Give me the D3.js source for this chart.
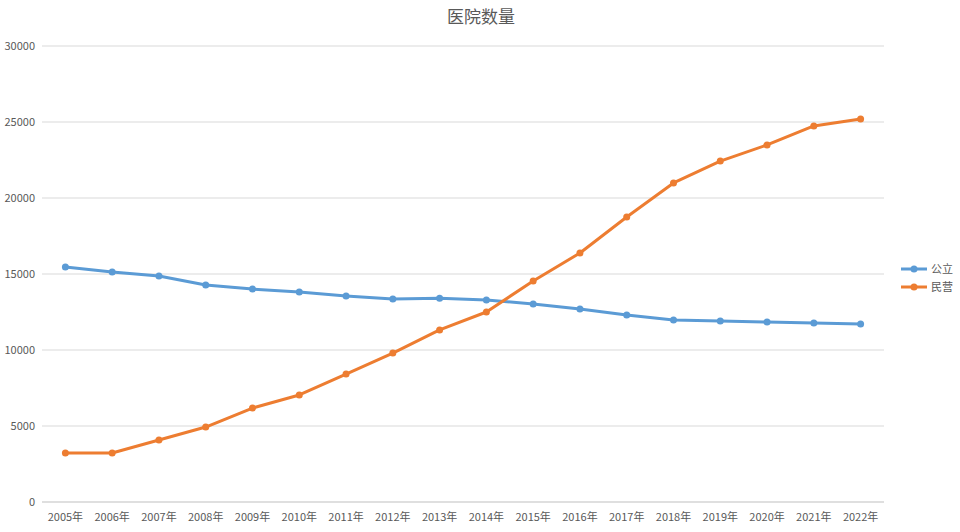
<!DOCTYPE html>
<html><head><meta charset="utf-8">
<script src="https://cdn.jsdelivr.net/npm/d3@7"></script>
<style>body{margin:0;background:#fff}text{font-family:"Noto Sans CJK SC","Noto Sans",sans-serif;fill:#595959}</style>
</head><body><svg id="c" width="960" height="532"></svg>
<script>
const categories=["2005年","2006年","2007年","2008年","2009年","2010年","2011年","2012年","2013年","2014年","2015年","2016年","2017年","2018年","2019年","2020年","2021年","2022年"];
const publicVals=[15460,15130,14870,14280,14010,13820,13550,13360,13400,13290,13030,12700,12300,11970,11910,11840,11780,11710];
const privateVals=[3220,3220,4080,4930,6180,7040,8420,9800,11320,12500,14540,16380,18750,20990,22430,23490,24740,25200];
const yTicks=[0,5000,10000,15000,20000,25000,30000];
const seriesNames=["公立","民营"];
const colors=["#5b9bd5","#ed7d31"];

const svg=d3.select("#c");
const x=d3.scaleBand().domain(categories).range([42,884]);
const y=d3.scaleLinear().domain([0,30000]).range([502,46]);
const cx=d=>x(d)+x.bandwidth()/2;

svg.append("g").selectAll("line").data(yTicks).join("line")
 .attr("x1",42).attr("x2",884).attr("y1",d=>y(d)).attr("y2",d=>y(d))
 .attr("stroke",d=>d===0?"#bfbfbf":"#d9d9d9").attr("stroke-width",1);
svg.append("g").selectAll("text").data(yTicks).join("text")
 .attr("x",35).attr("y",d=>y(d)+4).attr("text-anchor","end").attr("font-size",11).text(d=>d);
svg.append("g").selectAll("text").data(categories).join("text")
 .attr("x",d=>cx(d)).attr("y",521).attr("text-anchor","middle").attr("font-size",11).text(d=>d);
svg.append("text").attr("x",481).attr("y",23).attr("text-anchor","middle").attr("font-size",17).text("医院数量");

[publicVals,privateVals].forEach((vals,i)=>{
 const data=categories.map((c,j)=>[c,vals[j]]);
 svg.append("path").datum(data).attr("fill","none").attr("stroke",colors[i]).attr("stroke-width",3)
  .attr("stroke-linejoin","round").attr("d",d3.line().x(d=>cx(d[0])).y(d=>y(d[1])));
 svg.append("g").selectAll("circle").data(data).join("circle")
  .attr("cx",d=>cx(d[0])).attr("cy",d=>y(d[1])).attr("r",3.5).attr("fill",colors[i]);
 const ly=269+i*18;
 svg.append("line").attr("x1",901).attr("x2",927).attr("y1",ly).attr("y2",ly).attr("stroke",colors[i]).attr("stroke-width",3);
 svg.append("circle").attr("cx",914).attr("cy",ly).attr("r",3.5).attr("fill",colors[i]);
 svg.append("text").attr("x",931).attr("y",ly+4).attr("font-size",11).text(seriesNames[i]);
});
</script></body></html>
